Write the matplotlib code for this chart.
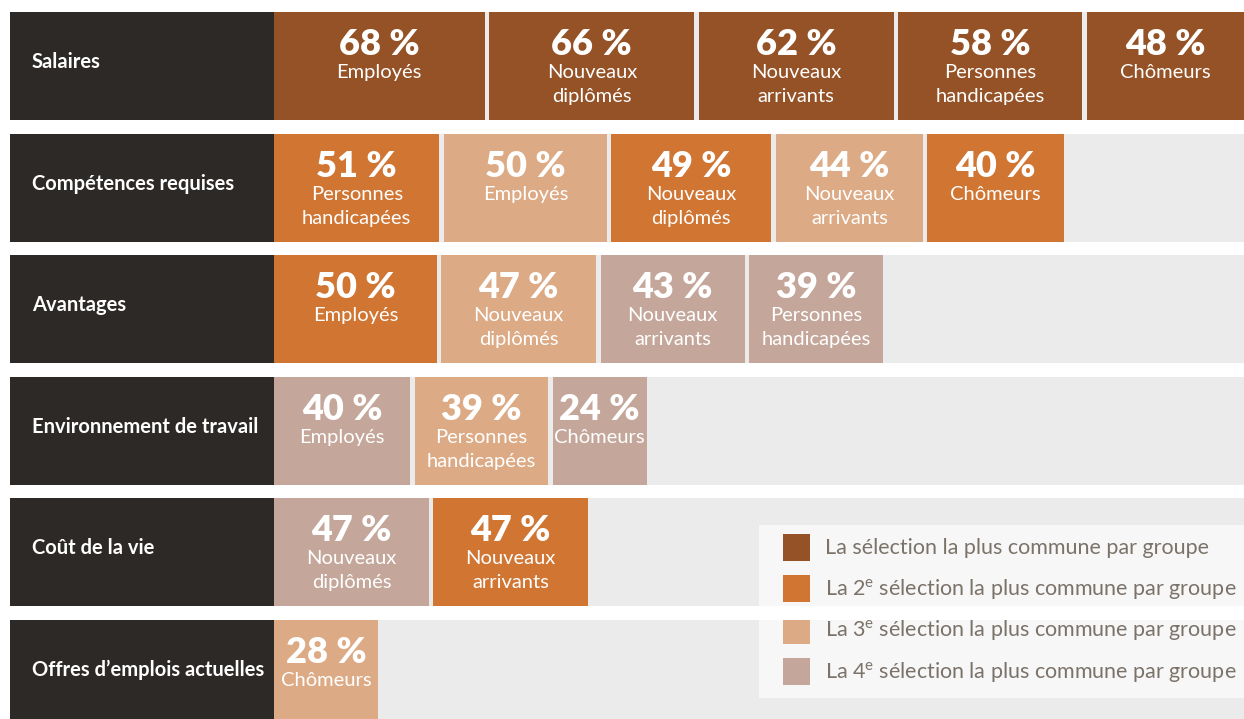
import matplotlib
matplotlib.use('Agg')
import matplotlib.pyplot as plt
from matplotlib.patches import Rectangle

plt.rcParams['font.family'] = ['Lato', 'DejaVu Sans']
plt.rcParams['mathtext.fontset'] = 'custom'
plt.rcParams['mathtext.rm'] = 'Lato'

# data
categories = ['Salaires', 'Compétences requises', 'Avantages',
              'Environnement de travail', 'Coût de la vie',
              'Offres d’emplois actuelles']
values = [[68, 66, 62, 58, 48],
          [51, 50, 49, 44, 40],
          [50, 47, 43, 39],
          [40, 39, 24],
          [47, 47],
          [28]]
groups = [['Employés', 'Nouveaux\ndiplômés', 'Nouveaux\narrivants', 'Personnes\nhandicapées', 'Chômeurs'],
          ['Personnes\nhandicapées', 'Employés', 'Nouveaux\ndiplômés', 'Nouveaux\narrivants', 'Chômeurs'],
          ['Employés', 'Nouveaux\ndiplômés', 'Nouveaux\narrivants', 'Personnes\nhandicapées'],
          ['Employés', 'Personnes\nhandicapées', 'Chômeurs'],
          ['Nouveaux\ndiplômés', 'Nouveaux\narrivants'],
          ['Chômeurs']]
ranks = [[1, 1, 1, 1, 1],
         [2, 3, 2, 3, 2],
         [2, 3, 4, 4],
         [4, 3, 4],
         [4, 2],
         [3]]
legend_labels = ['La sélection la plus commune par groupe',
                 r'La 2$^{\mathrm{e}}$ sélection la plus commune par groupe',
                 r'La 3$^{\mathrm{e}}$ sélection la plus commune par groupe',
                 r'La 4$^{\mathrm{e}}$ sélection la plus commune par groupe']

rank_colors = {1: '#955226', 2: '#d17532', 3: '#dcaa84', 4: '#c4a79a'}
dark = '#2d2926'
grey = '#ebebeb'

# layout (pixels)
W, H = 1244, 719
x0 = 274          # start of bar area
lab_w = 264       # width of the dark label box
pitch = 121.6     # row pitch
row_h = 108
top = 12
unit = 2.656      # px per percentage point
pad = 30 / unit   # extra width per box
gap = 4.5 / unit

fig = plt.figure(figsize=(W / 100, H / 100), dpi=100)
ax = fig.add_axes([0, 0, 1, 1])
ax.set_xlim(-x0 / unit, (W - x0) / unit)
c0 = top + row_h / 2
ax.set_ylim((H - c0) / pitch, -c0 / pitch)
ax.axis('off')

h = row_h / pitch
pt = 0.72  # px -> points
for i, cat in enumerate(categories):
    ax.barh(i, lab_w / unit, left=-lab_w / unit, height=h, color=dark, zorder=1)
    ax.barh(i, (W - x0) / unit, left=0, height=h, color=grey, zorder=1)
    ax.annotate(cat, (-lab_w / unit, i), xytext=(22 * pt, -2 * pt),
                textcoords='offset points', ha='left', va='baseline',
                color='white', fontsize=14.5, fontweight='bold', zorder=3)
    left = 0
    for v, g, r in zip(values[i], groups[i], ranks[i]):
        w = v + pad
        ax.barh(i, w, left=left, height=h, color=rank_colors[r], zorder=2)
        cx = left + w / 2
        ax.annotate(f'{v} %', (cx, i), xytext=(0, 11 * pt), textcoords='offset points',
                    ha='center', va='baseline', color='white', fontsize=26,
                    fontweight='heavy', zorder=3)
        for k, line in enumerate(g.split('\n')):
            ax.annotate(line, (cx, i), xytext=(0, -(12 + 24 * k) * pt),
                        textcoords='offset points', ha='center', va='baseline',
                        color='white', fontsize=14.5, fontweight='normal', zorder=3)
        left += w + gap

# legend in pixel coordinates
lax = fig.add_axes([0, 0, 1, 1])
lax.set_xlim(0, W)
lax.set_ylim(H, 0)
lax.axis('off')
lax.patch.set_alpha(0)
lax.add_patch(Rectangle((759, 525), W - 759, 173, facecolor='#f7f7f7', edgecolor='none'))
for k, lab in enumerate(legend_labels):
    cy = 547.5 + 41.3 * k
    lax.add_patch(Rectangle((783, cy - 13.5), 27, 27, facecolor=rank_colors[k + 1], edgecolor='none'))
    lax.text(825, cy + 7, lab, ha='left', va='baseline', color='#7b736a',
             fontsize=15.5, fontweight='normal')
# white gap between rows crossing the legend box
g_top = top + 4 * pitch + row_h
lax.add_patch(Rectangle((740, g_top), W - 740, pitch - row_h, facecolor='white',
                        edgecolor='none', zorder=5))

fig.savefig('out.png', dpi=100, facecolor='white')
